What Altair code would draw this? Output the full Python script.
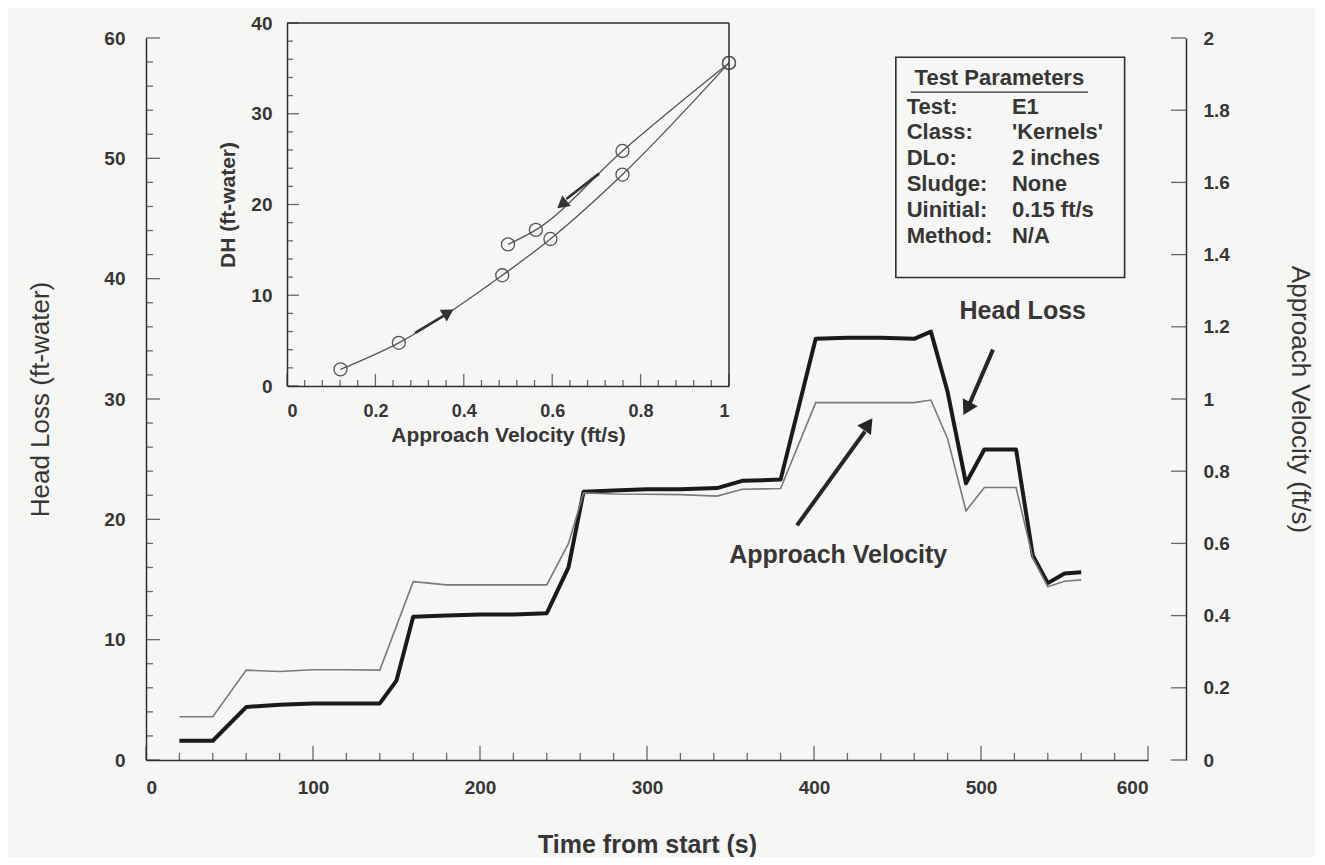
import altair as alt
import pandas as pd

# ---------------- data ----------------
time_hl = [20, 40, 60, 80, 100, 120, 140, 150, 160, 180, 200, 220, 240, 253, 262,
           280, 300, 320, 342, 357, 380, 401, 420, 440, 460, 470, 480, 491, 502,
           521, 531, 540, 550, 560]
head_loss = [1.6, 1.6, 4.4, 4.6, 4.7, 4.7, 4.7, 6.6, 11.9, 12.0, 12.1, 12.1, 12.2,
             16.0, 22.3, 22.4, 22.5, 22.5, 22.6, 23.2, 23.3, 35.0, 35.1, 35.1,
             35.0, 35.6, 30.6, 23.0, 25.8, 25.8, 17.0, 14.7, 15.5, 15.6]

time_vel = [20, 40, 60, 80, 100, 120, 140, 160, 180, 200, 220, 240, 253, 262, 280,
            300, 320, 342, 357, 380, 401, 420, 440, 460, 470, 480, 491, 502, 521,
            531, 540, 550, 560]
velocity = [0.12, 0.12, 0.249, 0.245, 0.25, 0.25, 0.249, 0.494, 0.485, 0.485,
            0.485, 0.485, 0.60, 0.74, 0.737, 0.736, 0.735, 0.731, 0.75, 0.752,
            0.99, 0.99, 0.99, 0.99, 0.997, 0.89, 0.69, 0.755, 0.755, 0.56, 0.48,
            0.495, 0.499]

# inset: DH versus approach velocity (rising then falling branch)
up_vel = [0.121, 0.253, 0.487, 0.596, 0.759, 1.0]
up_dh = [1.83, 4.76, 12.2, 16.2, 23.3, 35.6]
down_vel = [1.0, 0.759, 0.563, 0.5]
down_dh = [35.6, 25.9, 17.2, 15.6]

param_labels = ["Test:", "Class:", "DLo:", "Sludge:", "Uinitial:", "Method:"]
param_values = ["E1", "'Kernels'", "2 inches", "None", "0.15 ft/s", "N/A"]

x_major = [0, 100, 200, 300, 400, 500, 600]
x_minor = [t for t in range(20, 600, 20) if t % 100]
y_major = [0, 10, 20, 30, 40, 50, 60]
y_minor = [v for v in range(2, 60, 2) if v % 10]
v_ticks = [0, 0.2, 0.4, 0.6, 0.8, 1, 1.2, 1.4, 1.6, 1.8, 2]
ix_major = [0, 0.2, 0.4, 0.6, 0.8, 1]
ix_minor = [0.04, 0.08, 0.12, 0.16, 0.24, 0.28, 0.32, 0.36, 0.44, 0.48, 0.52,
            0.56, 0.64, 0.68, 0.72, 0.76, 0.84, 0.88, 0.92, 0.96]
iy_major = [0, 10, 20, 30, 40]
iy_minor = [2, 4, 6, 8, 12, 14, 16, 18, 22, 24, 26, 28, 32, 34, 36, 38]

# ---------------- layout / style ----------------
W, H = 1040, 722
FONT = "Liberation Sans"
INK = "#2e2e2e"
TXT = "#363636"
BG = "#f6f6f4"


def xs():
    return alt.Scale(domain=[0, 600], range=[0, 1002], nice=False, zero=False)


def ys():
    return alt.Scale(domain=[0, 60], range=[H, 0], nice=False, zero=False)


def vs():
    return alt.Scale(domain=[0, 2], range=[H, 0], nice=False, zero=False)


def ixs():
    return alt.Scale(domain=[0, 1], range=[141, 583], nice=False, zero=False)


def iys():
    return alt.Scale(domain=[0, 40], range=[348, -15], nice=False, zero=False)


common_axis = dict(grid=False, ticks=False, tickSize=0, domainColor=INK, domainWidth=1.5,
                   labelFont=FONT, labelColor=TXT, labelFontWeight="bold",
                   titleFont=FONT, titleColor=TXT, labelExpr="'' + datum.value")

x_axis = alt.Axis(values=x_major, labelFontSize=19, labelPadding=18,
                  title="Time from start (s)", titleFontSize=25, titleFontWeight="bold",
                  titlePadding=35, orient="bottom", **common_axis)
y_axis = alt.Axis(values=y_major, labelFontSize=19, labelPadding=21,
                  title="Head Loss (ft-water)", titleFontSize=26, titleFontWeight="normal",
                  titlePadding=50, orient="left", **common_axis)
v_axis = alt.Axis(values=v_ticks, labelFontSize=19, labelPadding=17,
                  title="Approach Velocity (ft/s)", titleFontSize=26, titleFontWeight="normal",
                  titlePadding=57, orient="right", **common_axis)
ix_axis = alt.Axis(values=ix_major, labelFontSize=18, labelPadding=16,
                   title="Approach Velocity (ft/s)", titleFontSize=21, titleFontWeight="bold",
                   titlePadding=4, orient="bottom", offset=-(H - 348), **common_axis)
iy_axis = alt.Axis(values=iy_major, labelFontSize=19, labelPadding=15,
                   title="DH (ft-water)", titleFontSize=21, titleFontWeight="bold",
                   titlePadding=12, orient="left", offset=-141, **common_axis)


def vticks(vals, scale_x, scale_y, size):
    return alt.Chart(pd.DataFrame({"p": vals})).mark_tick(
        orient="vertical", size=size, thickness=1.3, yOffset=-size / 2, color=INK
    ).encode(x=alt.X("p:Q", scale=scale_x, axis=None), y=alt.YDatum(0, scale=scale_y, axis=None))


def hticks(vals, scale_x, scale_y, size):
    return alt.Chart(pd.DataFrame({"p": vals})).mark_tick(
        orient="horizontal", size=size, thickness=1.3, xOffset=size / 2, color=INK
    ).encode(y=alt.Y("p:Q", scale=scale_y, axis=None), x=alt.XDatum(0, scale=scale_x, axis=None))


def txt(df, size, weight, align):
    return alt.Chart(df).mark_text(
        font=FONT, fontSize=size, fontWeight=weight, color=TXT, align=align, baseline="middle"
    ).encode(x=alt.X("t:Q", scale=xs(), axis=None), y=alt.Y("h:Q", scale=ys(), axis=None), text="s:N")


layers = []

# ---------------- main head-loss line and its axes ----------------
hl_df = pd.DataFrame({"t": time_hl, "hl": head_loss})
layers.append(alt.Chart(hl_df).mark_line(color="#1a1a1a", strokeWidth=4, strokeJoin="round").encode(
    x=alt.X("t:Q", scale=xs(), axis=x_axis),
    y=alt.Y("hl:Q", scale=ys(), axis=y_axis),
))
layers += [
    vticks(x_major, xs(), ys(), 14),
    vticks(x_minor, xs(), ys(), 7),
    hticks(y_major, xs(), ys(), 14),
    hticks(y_minor, xs(), ys(), 7),
]

# ---------------- velocity line (right axis) ----------------
v_df = pd.DataFrame({"t": time_vel, "v": velocity})
layers.append(alt.Chart(v_df).mark_line(color="#7a7a7a", strokeWidth=1.6).encode(
    x=alt.X("t:Q", scale=xs(), axis=None),
    y=alt.Y("v:Q", scale=vs(), axis=v_axis),
))
layers.append(alt.Chart(pd.DataFrame({"v": v_ticks})).mark_tick(
    orient="horizontal", size=15, thickness=1.3, xOffset=-7.5, color=INK
).encode(y=alt.Y("v:Q", scale=vs(), axis=None), x=alt.value(W)))

# ---------------- legend box ----------------
layers.append(alt.Chart(pd.DataFrame({"t1": [449], "t2": [586], "h1": [40.1], "h2": [58.4]})).mark_rect(
    fill="transparent", stroke=INK, strokeWidth=1.6
).encode(x=alt.X("t1:Q", scale=xs(), axis=None), x2="t2:Q",
         y=alt.Y("h1:Q", scale=ys(), axis=None), y2="h2:Q"))
layers.append(txt(pd.DataFrame({"t": [511], "h": [56.7], "s": ["Test Parameters"]}), 22, "bold", "center"))
layers.append(alt.Chart(pd.DataFrame({"t1": [458], "t2": [564], "h": [55.5]})).mark_rule(
    color=INK, strokeWidth=1.3
).encode(x=alt.X("t1:Q", scale=xs(), axis=None), x2="t2:Q", y=alt.Y("h:Q", scale=ys(), axis=None)))

row_h = [54.3, 52.15, 50.0, 47.85, 45.7, 43.55]
layers.append(txt(pd.DataFrame({"t": [455.5] * 6, "h": row_h, "s": param_labels}), 22, "bold", "left"))
layers.append(txt(pd.DataFrame({"t": [518.5] * 6, "h": row_h, "s": param_values}), 22, "bold", "left"))

# ---------------- annotation arrows ----------------
arrows = pd.DataFrame({"t1": [389.8, 507.2], "h1": [19.5, 34.1],
                       "t2": [430.5, 492.5], "h2": [27.3, 29.4]})
layers.append(alt.Chart(arrows).mark_rule(color="#262626", strokeWidth=4).encode(
    x=alt.X("t1:Q", scale=xs(), axis=None), x2="t2:Q",
    y=alt.Y("h1:Q", scale=ys(), axis=None), y2="h2:Q"))
for t, h, ang in [(432.5, 27.9, 35), (491.5, 29.2, 208)]:
    layers.append(alt.Chart(pd.DataFrame({"t": [t], "h": [h]})).mark_point(
        shape="triangle-up", filled=True, size=280, angle=ang, color="#262626", opacity=1
    ).encode(x=alt.X("t:Q", scale=xs(), axis=None), y=alt.Y("h:Q", scale=ys(), axis=None)))
layers.append(txt(pd.DataFrame({"t": [525, 414.5], "h": [37.3, 17.0],
                                "s": ["Head Loss", "Approach Velocity"]}), 25, "bold", "center"))

# ---------------- inset ----------------
branch = pd.DataFrame({
    "u": up_vel + down_vel,
    "dh": up_dh + down_dh,
    "branch": ["up"] * len(up_vel) + ["down"] * len(down_vel),
})
layers.append(alt.Chart(branch).mark_line(color="#555555", strokeWidth=1.3, interpolate="monotone").encode(
    x=alt.X("u:Q", scale=ixs(), axis=ix_axis),
    y=alt.Y("dh:Q", scale=iys(), axis=iy_axis),
    detail="branch:N",
))
layers.append(alt.Chart(branch).mark_point(shape="circle", filled=False, size=170, color="#555555",
                                           strokeWidth=1.3, opacity=1).encode(
    x=alt.X("u:Q", scale=ixs(), axis=None), y=alt.Y("dh:Q", scale=iys(), axis=None)))

frame = pd.DataFrame({"x1": [0, 1], "x2": [1, 1], "y1": [40, 0], "y2": [40, 40]})
layers.append(alt.Chart(frame).mark_rule(color=INK, strokeWidth=1.5).encode(
    x=alt.X("x1:Q", scale=ixs(), axis=None), x2="x2:Q",
    y=alt.Y("y1:Q", scale=iys(), axis=None), y2="y2:Q"))
layers += [
    vticks(ix_major, ixs(), iys(), 12),
    vticks(ix_minor, ixs(), iys(), 6),
    hticks(iy_major, ixs(), iys(), 12),
    hticks(iy_minor, ixs(), iys(), 6),
]

ins_arrow = pd.DataFrame({"x1": [0.29, 0.706], "y1": [5.86, 23.4], "x2": [0.355, 0.632], "y2": [7.75, 20.6]})
layers.append(alt.Chart(ins_arrow).mark_rule(color="#333333", strokeWidth=2.6).encode(
    x=alt.X("x1:Q", scale=ixs(), axis=None), x2="x2:Q",
    y=alt.Y("y1:Q", scale=iys(), axis=None), y2="y2:Q"))
for x, y, ang in [(0.365, 8.1, 59), (0.622, 20.0, 231)]:
    layers.append(alt.Chart(pd.DataFrame({"x": [x], "y": [y]})).mark_point(
        shape="triangle-up", filled=True, size=190, angle=ang, color="#333333", opacity=1
    ).encode(x=alt.X("x:Q", scale=ixs(), axis=None), y=alt.Y("y:Q", scale=iys(), axis=None)))

chart = alt.layer(*layers).resolve_scale(x="independent", y="independent").properties(
    width=W, height=H,
    autosize=alt.AutoSizeParams(type="none"),
    padding={"left": 138, "top": 30, "right": 129, "bottom": 97},
    background=BG,
).configure_view(stroke=None)

chart.save("out.html", embed_options={"renderer": "svg", "actions": False})
